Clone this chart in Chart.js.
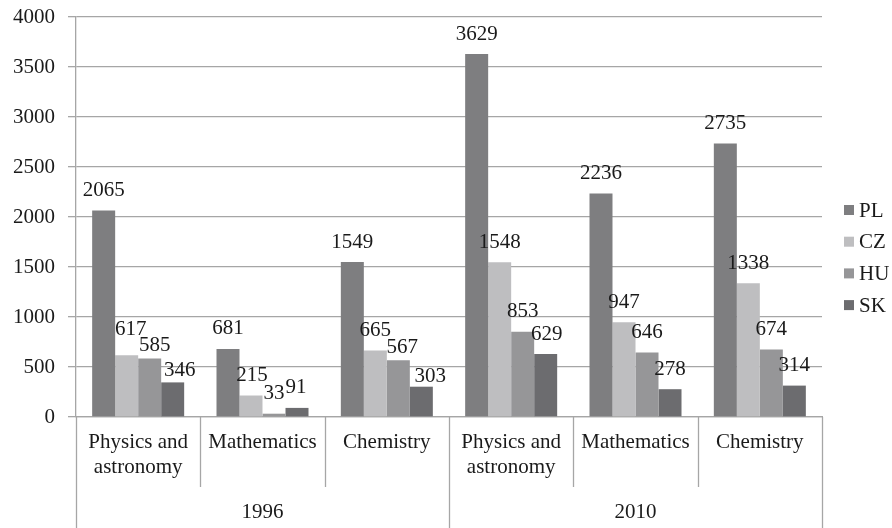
<!DOCTYPE html>
<html lang="en">
<head>
    <meta charset="UTF-8">
    <title>PL CZ HU SK 1996 / 2010</title>
    <style>
        body { margin: 0; background: #fff; }
        .wrap { position: relative; width: 892px; height: 528px; }
    </style>
</head>
<body>
<div class="wrap">
    <canvas id="chart" width="892" height="528"></canvas>
</div>

<script src="https://cdn.jsdelivr.net/npm/chart.js"></script>
<script>
    // data
    const categories = [
        ['Physics and', 'astronomy'], 'Mathematics', 'Chemistry',
        ['Physics and', 'astronomy'], 'Mathematics', 'Chemistry'
    ];
    const years = ['1996', '2010'];
    const seriesNames = ['PL', 'CZ', 'HU', 'SK'];
    const PL = [2065, 681, 1549, 3629, 2236, 2735];
    const CZ = [617, 215, 665, 1548, 947, 1338];
    const HU = [585, 33, 567, 853, 646, 674];
    const SK = [346, 91, 303, 629, 278, 314];
    const yTicks = [0, 500, 1000, 1500, 2000, 2500, 3000, 3500, 4000];

    // a few value labels were pushed aside in the original, [dx, dy] per bar
    const labelNudge = [
        [[0, 0], [0, 0], [0, 0], [0, 0], [0, 0], [0, 0]],
        [[4, -6], [1, 0], [0, 0], [0, 0], [0, 0], [0, 0]],
        [[5, 7], [0, 0], [4, 7], [0, 0], [0, 0], [0, 0]],
        [[7, 8], [-1, 0], [9, 10], [1, 0], [0, 0], [0, 0]]
    ];

    const colors = ['#7e7e80', '#bebec0', '#969698', '#6c6c6f'];
    const FONT = '"Liberation Serif", "Times New Roman", serif';
    const FS = 21;
    const lineColor = '#a6a6a6';

    // value labels over each bar + group separators + year row + legend
    const extras = {
        id: 'extras',
        afterDatasetsDraw(chart) {
            const ctx = chart.ctx;
            ctx.save();
            ctx.font = FS + 'px ' + FONT;
            ctx.fillStyle = '#1a1a1a';
            ctx.textAlign = 'center';
            ctx.textBaseline = 'alphabetic';
            chart.data.datasets.forEach((ds, i) => {
                chart.getDatasetMeta(i).data.forEach((bar, j) => {
                    const [dx, dy] = labelNudge[i][j];
                    ctx.fillText(String(ds.data[j]), bar.x + dx, bar.y - 14.5 + dy);
                });
            });
            ctx.restore();
        },
        afterDraw(chart) {
            const ctx = chart.ctx;
            const x = chart.scales.x;
            const area = chart.chartArea;
            const half = (x.getPixelForValue(1) - x.getPixelForValue(0)) / 2;
            ctx.save();
            ctx.strokeStyle = lineColor;
            ctx.lineWidth = 1.3;
            // separators running down from the axis
            for (let i = 0; i <= categories.length; i++) {
                const px = Math.round(x.getPixelForValue(i) - half) + 0.5;
                const outer = (i % 3 === 0);
                ctx.beginPath();
                ctx.moveTo(px, area.bottom);
                ctx.lineTo(px, outer ? chart.height : area.bottom + 70);
                ctx.stroke();
            }
            // year row
            ctx.font = FS + 'px ' + FONT;
            ctx.fillStyle = '#1a1a1a';
            ctx.textAlign = 'center';
            ctx.textBaseline = 'middle';
            years.forEach((y, k) => {
                const l = x.getPixelForValue(k * 3) - half;
                const r = x.getPixelForValue(k * 3 + 2) + half;
                ctx.fillText(y, (l + r) / 2, 512);
            });
            // legend
            ctx.textAlign = 'left';
            seriesNames.forEach((n, k) => {
                const cy = 210 + k * 31.7;
                ctx.fillStyle = colors[k];
                ctx.fillRect(844, cy - 5, 10, 10);
                ctx.fillStyle = '#1a1a1a';
                ctx.fillText(n, 859, cy + 1);
            });
            ctx.restore();
        }
    };

    new Chart(document.getElementById('chart'), {
        type: 'bar',
        data: {
            labels: categories,
            datasets: seriesNames.map((n, i) => ({
                label: n,
                data: [PL, CZ, HU, SK][i],
                backgroundColor: colors[i],
                borderWidth: 0,
                categoryPercentage: 0.74,
                barPercentage: 1.0
            }))
        },
        options: {
            responsive: false,
            animation: false,
            layout: { padding: { top: 17, right: 70, bottom: 0, left: 0 } },
            plugins: {
                legend: { display: false },
                tooltip: { enabled: false }
            },
            scales: {
                x: {
                    grid: { display: false },
                    border: { display: true, color: lineColor, width: 1.3 },
                    ticks: {
                        color: '#1a1a1a',
                        font: { family: FONT, size: FS, lineHeight: 1.2 },
                        padding: 5,
                        maxRotation: 0,
                        autoSkip: false
                    },
                    afterFit(s) { s.height = 111; s.paddingLeft = 0; s.paddingRight = 0; }
                },
                y: {
                    min: 0,
                    max: 4000,
                    afterBuildTicks(s) { s.ticks = yTicks.map(v => ({ value: v })); },
                    grid: { color: lineColor, lineWidth: 1.3, tickLength: 8 },
                    border: { display: true, color: lineColor, width: 1.3 },
                    ticks: {
                        color: '#1a1a1a',
                        font: { family: FONT, size: FS },
                        padding: 13,
                        callback: v => String(v)
                    },
                    afterFit(s) { s.width = 76; s.paddingTop = 0; s.paddingBottom = 0; }
                }
            }
        },
        plugins: [extras]
    });
</script>
</body>
</html>
